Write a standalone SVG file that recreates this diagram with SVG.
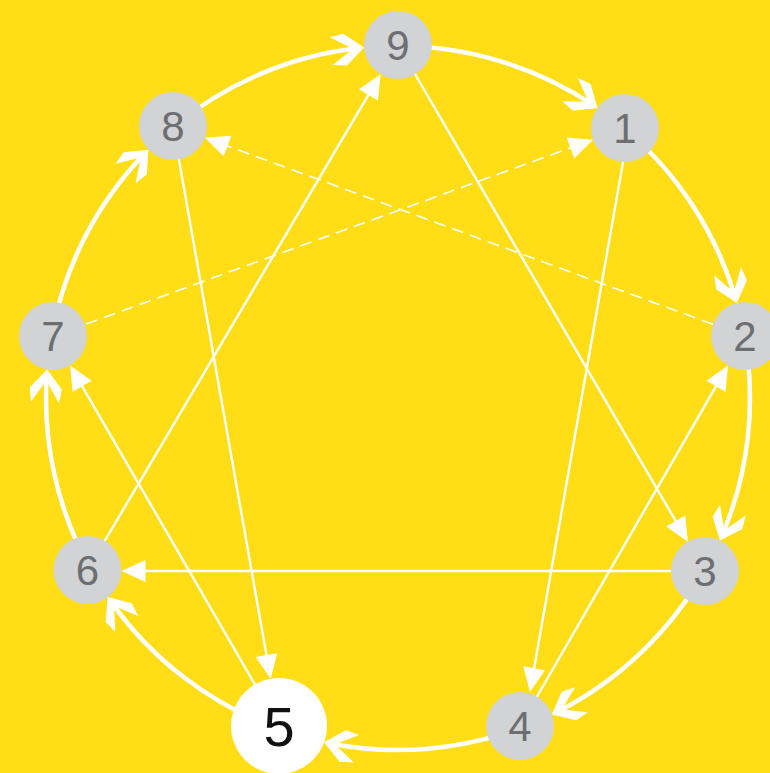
<svg xmlns="http://www.w3.org/2000/svg" width="770" height="773" viewBox="0 0 770 773">
<style>
.arc{fill:none;stroke:#fff;stroke-width:4.5;marker-end:url(#chev)}
.ln{fill:none;stroke:#fff;stroke-width:2.4;marker-end:url(#tri)}
.dash{fill:none;stroke:#fff;stroke-width:1.6;stroke-dasharray:12 7;marker-end:url(#tri)}
.nd circle{fill:#D1D3D4}
.nd text{font-family:"Liberation Sans",Arial,sans-serif;font-size:42px;fill:#6D6E71;text-anchor:middle}
#n5 circle{fill:#fff}
#n5 text{font-size:56px;fill:#111}
</style>
<defs>
<marker id="chev" markerUnits="userSpaceOnUse" orient="auto" markerWidth="40" markerHeight="40" viewBox="-30 -20 40 40" refX="0" refY="0" overflow="visible">
<path d="M5,0 L-14,-16 L-28,-14 L-6,0 L-28,14 L-14,16 Z" fill="#fff"/>
</marker>
<marker id="tri" markerUnits="userSpaceOnUse" orient="auto" markerWidth="40" markerHeight="40" viewBox="-30 -20 40 40" refX="0" refY="0" overflow="visible">
<path d="M6,0 L-18,-11 L-18,11 Z" fill="#fff"/>
</marker>
</defs>
<rect width="770" height="773" fill="#FFDE17"/>
<g id="connectors">
<path class="arc" d="M398,46 A352,352 0 0 1 593.4,105.2"/>
<path class="arc" d="M624.6,128.6 A352,352 0 0 1 735.5,298.1"/>
<path class="arc" d="M744.5,336.1 A352,352 0 0 1 721.9,535.9"/>
<path class="arc" d="M704.6,570.9 A352,352 0 0 1 556.4,712.3"/>
<path class="arc" d="M520.7,727.9 A352,352 0 0 1 329,743.2"/>
<path class="arc" d="M278,728.9 A352,352 0 0 1 110.6,601.1"/>
<path class="arc" d="M89.8,568.1 A352,352 0 0 1 46.8,374.4"/>
<path class="arc" d="M51.6,335.7 A352,352 0 0 1 145,153.3"/>
<path class="arc" d="M173.6,126.8 A352,352 0 0 1 359.1,48.1"/>
<path class="ln" d="M398,45 L684.8,536.5"/>
<path class="ln" d="M623,162 L531,686"/>
<path class="ln" d="M520,726 L725,370.7"/>
<path class="ln" d="M705,571 L127.5,571"/>
<path class="ln" d="M279,726 L73.1,370.6"/>
<path class="ln" d="M87.5,570 L377.6,79.4"/>
<path class="ln" d="M173,126 L269.6,672.8"/>
<path class="dash" d="M86,324 L587.4,141.7"/>
<path class="dash" d="M713,324.3 L210.6,139.8"/>
</g>
<g id="n9" class="nd"><circle cx="398" cy="45" r="34"/><text x="398" y="60">9</text></g>
<g id="n1" class="nd"><circle cx="625" cy="128" r="34"/><text x="625" y="143">1</text></g>
<g id="n2" class="nd"><circle cx="745" cy="336" r="34"/><text x="745" y="351">2</text></g>
<g id="n3" class="nd"><circle cx="705" cy="571" r="34"/><text x="705" y="586">3</text></g>
<g id="n4" class="nd"><circle cx="520" cy="726" r="34"/><text x="520" y="741">4</text></g>
<g id="n5" class="nd"><circle cx="279" cy="726" r="48"/><text x="279" y="746">5</text></g>
<g id="n6" class="nd"><circle cx="87.5" cy="570" r="34"/><text x="87.5" y="585">6</text></g>
<g id="n7" class="nd"><circle cx="53" cy="336" r="34"/><text x="53" y="351">7</text></g>
<g id="n8" class="nd"><circle cx="173" cy="126" r="34"/><text x="173" y="141">8</text></g>
</svg>
